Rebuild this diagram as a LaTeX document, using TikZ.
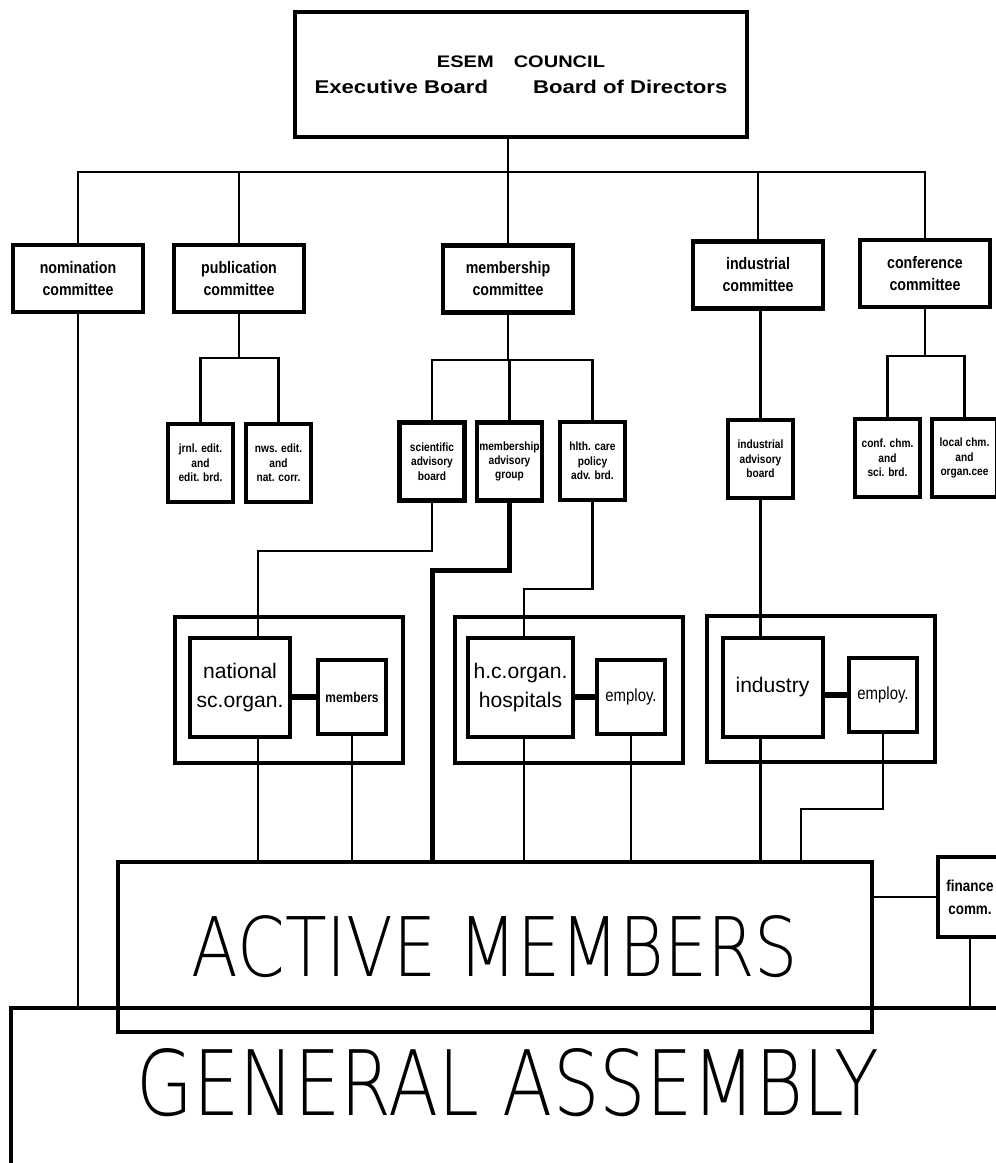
\documentclass[tikz,border=0pt]{standalone}
\usepackage{fontspec}
\usepackage{graphicx}
\setmainfont{Liberation Sans}
\newfontfamily\condfont[FakeStretch=0.85]{Liberation Sans}
\newfontfamily\widefont[FakeStretch=1.2]{Liberation Sans}
\IfFontExistsTF{DejaVu Sans ExtraLight}
  {\newfontfamily\thinfont{DejaVu Sans ExtraLight}}
  {\IfFontExistsTF{Lato Hairline}
    {\newfontfamily\thinfont{Lato Hairline}}
    {\IfFontExistsTF{Poppins Thin}
      {\newfontfamily\thinfont{Poppins Thin}}
      {\IfFontExistsTF{Fira Sans Light}
        {\newfontfamily\thinfont{Fira Sans Light}}
        {\newfontfamily\thinfont{Liberation Sans}}}}}

\begin{document}
\begin{tikzpicture}[x=0.2mm, y=-0.2mm,
  conn/.style={line width=0.45mm},
  heavyconn/.style={line width=1mm},
  pairlink/.style={line width=1.3mm},
  cbox/.style={draw, line width=0.9mm, minimum width=26mm, minimum height=13.4mm, inner sep=1pt, align=center,
    font=\condfont\bfseries\fontsize{9.5}{12.5}\selectfont},
  subbox/.style={draw, line width=0.9mm, minimum width=13mm, minimum height=15.6mm, inner sep=1pt, align=center,
    font=\condfont\bfseries\fontsize{6.8}{8.2}\selectfont},
  groupbox/.style={draw, line width=0.8mm, minimum width=45.6mm, minimum height=29.2mm},
  orgbox/.style={draw, line width=0.8mm, minimum width=20mm, minimum height=19.8mm, align=center,
    font=\fontsize{12}{16}\selectfont},
  staffbox/.style={draw, line width=0.8mm, minimum width=13.6mm, minimum height=14.8mm, inner sep=1pt, align=center,
    font=\condfont\fontsize{10}{12}\selectfont}]
  \useasboundingbox (0,0) rectangle (996,1163);
  \clip (0,0) rectangle (996,1163);
  % council
  \node[draw, line width=0.65mm, minimum width=90.4mm, minimum height=25mm, align=center,
    font=\widefont\bfseries\fontsize{10.5}{15}\selectfont] (council) at (521,74.5)
    {{\fontsize{9.5}{15}\selectfont ESEM\hspace{4mm}COUNCIL}\\Executive Board\hspace{9mm}Board of Directors};
  % committees
  \node[cbox] (nom)  at (78,278.5)  {nomination\\committee};
  \node[cbox] (pub)  at (239,278.5) {publication\\committee};
  \node[cbox] (memb) at (508,279)   {membership\\committee};
  \node[cbox] (ind)  at (758,275)   {industrial\\committee};
  \node[cbox] (conf) at (925,273.5) {conference\\committee};
  % sub boards
  \node[subbox] (jrnl)     at (200.5,463) {jrnl. edit.\\and\\edit. brd.};
  \node[subbox] (nws)      at (278.5,463) {nws. edit.\\and\\nat. corr.};
  \node[subbox] (sci)      at (432,461.5) {scientific\\advisory\\board};
  \node[subbox] (madv)     at (509.5,461.5) {membership\\advisory\\group};
  \node[subbox] (hlth)     at (592.5,461) {hlth. care\\policy\\adv. brd.};
  \node[subbox] (iadv)     at (760.5,459) {industrial\\advisory\\board};
  \node[subbox] (confchm)  at (887.5,458) {conf. chm.\\and\\sci. brd.};
  \node[subbox] (localchm) at (964.5,458) {local chm.\\and\\organ.cee};
  % organisations
  \node[groupbox] (grp1) at (289,690) {};
  \node[groupbox] (grp2) at (569,690) {};
  \node[groupbox] (grp3) at (821,688.5) {};
  \node[orgbox] (natl)     at (240,687.5) {national\\sc.organ.};
  \node[orgbox] (hco)      at (520.5,687.5) {h.c.organ.\\hospitals};
  \node[orgbox] (industry) at (772.5,687) {industry};
  \node[staffbox, font=\condfont\bfseries\fontsize{8}{10}\selectfont] (mem) at (352,697) {members};
  \node[staffbox] (emp2) at (631,697) {employ.};
  \node[staffbox] (emp3) at (883,695) {employ.};
  % active members, finance, general assembly
  \node[draw, line width=0.9mm, minimum width=150.8mm, minimum height=34mm] (active) at (495,947)
    {\resizebox{121.2mm}{12.2mm}{\thinfont ACTIVE MEMBERS}};
  \node[cbox, minimum width=12.8mm, minimum height=16mm, font=\condfont\bfseries\fontsize{9}{13}\selectfont]
    (fin) at (970,897) {finance\\comm.};
  \node[draw, line width=0.8mm, minimum width=220mm, minimum height=40mm] (ga) at (561,1108) {};
  \node (gatext) at (508,1083) {\resizebox{148.6mm}{13.4mm}{\thinfont GENERAL ASSEMBLY}};
  % council to committees
  \coordinate (bus) at (0,172);
  \draw[conn] (council.south -| memb.north) -- (memb.north);
  \draw[conn] (nom.north) |- (bus -| conf.north) -- (conf.north);
  \foreach \c in {pub,ind}
    \draw[conn] (\c.north) -- (\c.north |- bus);
  % publication
  \coordinate (pubfork) at (239,358);
  \draw[conn] (pub.south) -- (pubfork);
  \draw[conn] (jrnl.north) |- (pubfork) -| (nws.north);
  % membership
  \coordinate (membfork) at (508,360);
  \draw[conn] (memb.south) -- (membfork);
  \draw[conn] (sci.north) |- (membfork) -| (hlth.north);
  \draw[conn] (madv.north) -- (madv.north |- membfork);
  % industrial
  \draw[conn] (iadv.north |- ind.south) -- (iadv.north);
  % conference
  \coordinate (conffork) at (925,356);
  \draw[conn] (conf.south) -- (conffork);
  \draw[conn] (confchm.north) |- (conffork) -| (localchm.north);
  % boards to organisations
  \coordinate (sciturn) at (258,551);
  \draw[conn] (sci.south) |- (sciturn) -- (sciturn |- natl.north);
  \coordinate (madvturn) at (432,570);
  \draw[heavyconn] (madv.south) |- (madvturn) -- (madvturn |- active.north);
  \coordinate (hlthturn) at (524,589);
  \draw[conn] (hlth.south) |- (hlthturn) -- (hlthturn |- hco.north);
  \draw[conn] (iadv.south) -- (iadv.south |- industry.north);
  % pairs
  \draw[pairlink] (natl.east |- mem.west) -- (mem.west);
  \draw[pairlink] (hco.east |- emp2.west) -- (emp2.west);
  \draw[pairlink] (industry.east |- emp3.west) -- (emp3.west);
  % down to active members
  \draw[conn] (natl.south -| sciturn) -- (sciturn |- active.north);
  \draw[conn] (mem.south) -- (mem.south |- active.north);
  \draw[conn] (hco.south -| hlthturn) -- (hlthturn |- active.north);
  \draw[conn] (emp2.south) -- (emp2.south |- active.north);
  \draw[conn] (industry.south -| iadv.south) -- (iadv.south |- active.north);
  \coordinate (empturn) at (801,809);
  \draw[conn] (emp3.south) |- (empturn) -- (empturn |- active.north);
  % finance and nomination
  \draw[conn] (active.east |- fin.west) -- (fin.west);
  \draw[conn] (fin.south) -- (fin.south |- ga.north);
  \draw[conn] (nom.south) -- (nom.south |- ga.north);
\end{tikzpicture}
\end{document}
